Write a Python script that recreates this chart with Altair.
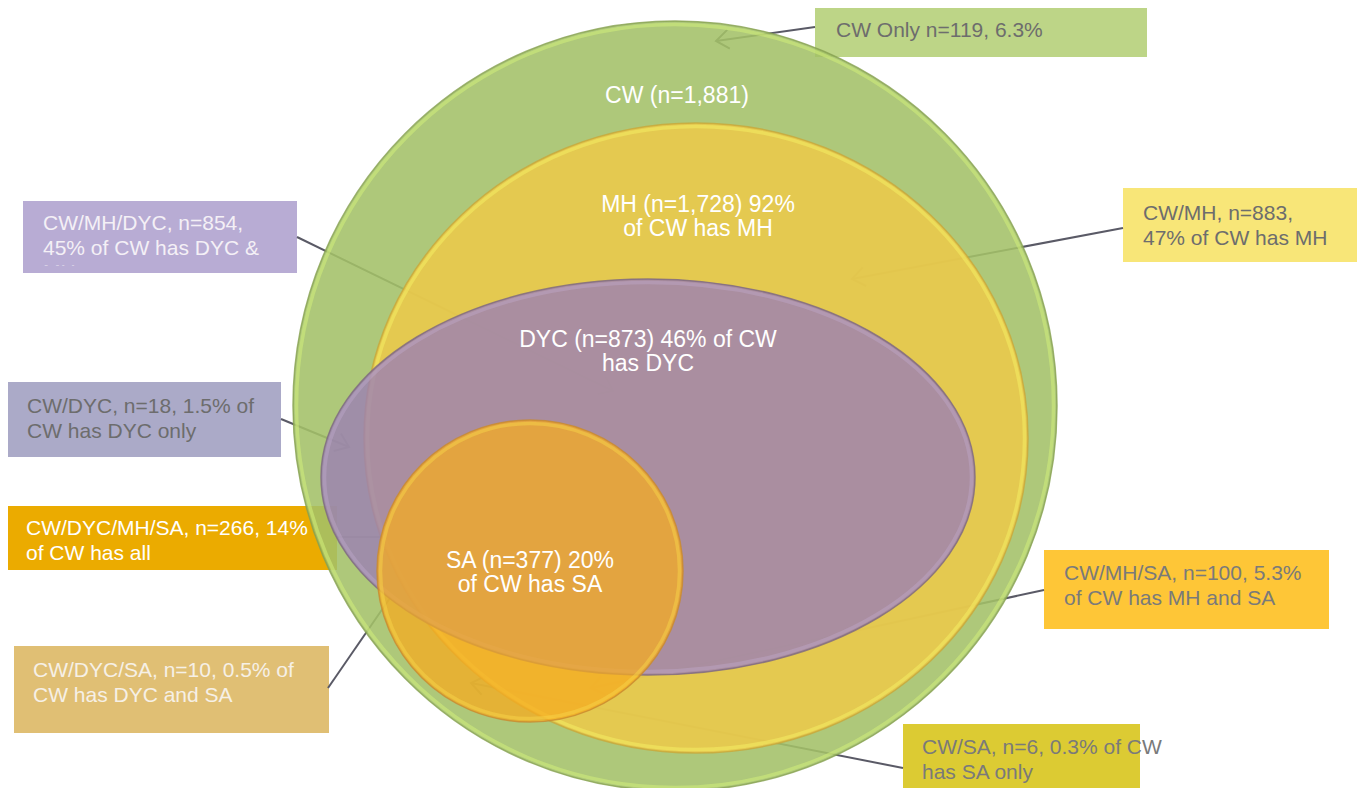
import math
import altair as alt
import pandas as pd

# ---------------- data (values / texts) ----------------
set_names = ["CW", "MH", "DYC", "SA"]
set_label_lines = [
    ["CW (n=1,881)"],
    ["MH (n=1,728) 92%", "of CW has MH"],
    ["DYC (n=873) 46% of CW", "has DYC"],
    ["SA (n=377) 20%", "of CW has SA"],
]

region_names = ["CW Only", "CW/MH", "CW/MH/DYC", "CW/DYC",
                "CW/DYC/MH/SA", "CW/MH/SA", "CW/DYC/SA", "CW/SA"]
region_lines = [
    ["CW Only n=119, 6.3%"],
    ["CW/MH, n=883,", "47% of CW has MH"],
    ["CW/MH/DYC, n=854,", "45% of CW has DYC &", "MH"],
    ["CW/DYC, n=18, 1.5% of", "CW has DYC only"],
    ["CW/DYC/MH/SA, n=266, 14%", "of CW has all"],
    ["CW/MH/SA, n=100, 5.3%", "of CW has MH and SA"],
    ["CW/DYC/SA, n=10, 0.5% of", "CW has DYC and SA"],
    ["CW/SA, n=6, 0.3% of CW", "has SA only"],
]

# ---------------- layout (page pixel coordinates) ----------------
shape_cx = [675, 696, 648, 530]
shape_cy = [406, 438, 477, 571]
shape_rx = [382, 332, 327, 153]
shape_ry = [385, 315, 198, 151]
shape_fill = ["#a3c068", "#ecc84a", "#9b80b4", "#f6ab20"]
shape_fill_op = [0.88, 0.88, 0.80, 0.75]
shape_edge = ["#86a050", "#c8a83a", "#7d6880", "#c88a30"]
shape_rim = ["#d2ee7a", "#f4ec62", "#c6b0d4", "#f8d448"]
shape_rim_op = [0.55, 0.55, 0.35, 0.5]
label_x = [677, 698, 648, 530]
label_y = [103, 212, 347, 568]

box_x1 = [815, 1123, 23, 7, 6, 1044, 14, 903]
box_x2 = [1147, 1365, 297, 281, 337, 1329, 329, 1140]
box_y1 = [7, 188, 201, 382, 506, 550, 646, 724]
box_y2 = [57, 262, 273, 457, 570, 629, 733, 796]
box_fill = ["#bdd587", "#f8e678", "#b8acd4", "#abaac8",
            "#ebab00", "#fec637", "#e0bf74", "#dccb33"]
text_x = [836, 1143, 43, 27, 26, 1064, 33, 922]
text_y = [37, 220, 230, 413, 535, 580, 677, 754]
text_col = ["#6d6d6d", "#6d6d6d", "#f4f0f6", "#6d6d6d",
            "#ffffff", "#7a7a7a", "#f6f0e6", "#7a7a7a"]

line_x1 = [815, 1123, 297, 281, 337, 1044, 328, 903]
line_y1 = [27, 228, 237, 419, 537, 590, 688, 768]
line_x2 = [716, 852, 613, 349, 383, 591, 390, 471]
line_y2 = [41, 279, 391, 447, 537, 688, 598, 683]
line_head = [True, True, True, True, False, True, False, True]
LINE_COL = "#5a5a66"

W, H = 1349, 780
xs = alt.Scale(domain=[8, 8 + W], nice=False, zero=False)
ys = alt.Scale(domain=[8, 8 + H], nice=False, zero=False, reverse=True)


def X(f):
    return alt.X(f"{f}:Q", scale=xs, axis=None)


def Y(f):
    return alt.Y(f"{f}:Q", scale=ys, axis=None)


def ellipse_path(q):
    k = 0.5523
    a, b = k * q, q
    return (f"M 1 0 C 1 {a:.4f} {k:.4f} {b:.4f} 0 {b:.4f} "
            f"C {-k:.4f} {b:.4f} -1 {a:.4f} -1 0 "
            f"C -1 {-a:.4f} {-k:.4f} {-b:.4f} 0 {-b:.4f} "
            f"C {k:.4f} {-b:.4f} 1 {-a:.4f} 1 0 Z")


layers = []

# boxes
boxes = pd.DataFrame({"name": region_names, "x1": box_x1, "x2": box_x2,
                      "y1": box_y1, "y2": box_y2, "fill": box_fill})
layers.append(alt.Chart(boxes).mark_rect(opacity=1).encode(
    x=X("x1"), x2="x2", y=Y("y1"), y2="y2",
    color=alt.Color("fill:N", scale=None)))

# leader lines
lines = pd.DataFrame({"x1": line_x1, "y1": line_y1, "x2": line_x2, "y2": line_y2})
layers.append(alt.Chart(lines).mark_rule(color=LINE_COL, strokeWidth=2).encode(
    x=X("x1"), y=Y("y1"), x2="x2", y2="y2"))

# arrow heads
hx, hy, ha = [], [], []
for i in range(len(line_x1)):
    if line_head[i]:
        ang = math.degrees(math.atan2(line_y2[i] - line_y1[i], line_x2[i] - line_x1[i])) % 360
        hx.append(line_x2[i]); hy.append(line_y2[i]); ha.append(ang)
heads = pd.DataFrame({"x": hx, "y": hy, "ang": ha})
layers.append(alt.Chart(heads).mark_point(
    shape="M -1 -0.75 L 0 0 L -1 0.75", filled=False, size=640,
    stroke=LINE_COL, strokeWidth=2, opacity=1).encode(
    x=X("x"), y=Y("y"), angle=alt.Angle("ang:Q", scale=None)))

# shapes
for i in range(4):
    d = pd.DataFrame({"set": [set_names[i]], "cx": [shape_cx[i]], "cy": [shape_cy[i]]})
    rx, ry = shape_rx[i], shape_ry[i]
    layers.append(alt.Chart(d).mark_point(
        shape=ellipse_path(ry / rx), size=4 * rx * rx, filled=True,
        fill=shape_fill[i], fillOpacity=shape_fill_op[i],
        stroke=shape_edge[i], strokeWidth=1.5, strokeOpacity=0.8, opacity=1
    ).encode(x=X("cx"), y=Y("cy")))
    rx2, ry2 = rx - 3.5, ry - 3.5
    layers.append(alt.Chart(d).mark_point(
        shape=ellipse_path(ry2 / rx2), size=4 * rx2 * rx2, filled=False,
        stroke=shape_rim[i], strokeWidth=3.5, strokeOpacity=shape_rim_op[i], opacity=1
    ).encode(x=X("cx"), y=Y("cy")))

# shape labels
slab = pd.DataFrame({"set": set_names, "x": label_x, "y": label_y,
                     "lines": set_label_lines})
layers.append(alt.Chart(slab).mark_text(
    align="center", baseline="alphabetic", font="Liberation Sans",
    fontSize=23, lineHeight=24, color="#ffffff").encode(
    x=X("x"), y=Y("y"), text=alt.Text("lines")))

# box texts
btxt = pd.DataFrame({"name": region_names, "x": text_x, "y": text_y,
                     "lines": region_lines, "col": text_col})
layers.append(alt.Chart(btxt).mark_text(
    align="left", baseline="alphabetic", font="Liberation Sans",
    fontSize=21, lineHeight=24.5).encode(
    x=X("x"), y=Y("y"), text=alt.Text("lines"),
    color=alt.Color("col:N", scale=None)))

# clipping of the overflowing third line in the CW/MH/DYC box
cover = pd.DataFrame({"x1": [box_x1[2], box_x1[2] - 3], "x2": [box_x2[2], box_x2[2] + 3],
                      "y1": [265.5, box_y2[2]], "y2": [box_y2[2], box_y2[2] + 25],
                      "fill": [box_fill[2], "#ffffff"]})
layers.append(alt.Chart(cover).mark_rect(opacity=1).encode(
    x=X("x1"), x2="x2", y=Y("y1"), y2="y2",
    color=alt.Color("fill:N", scale=None)))

chart = alt.layer(*layers).properties(
    width=W, height=H, padding=0, autosize=alt.AutoSizeParams(type="none"),
    background="#ffffff"
).configure_view(stroke=None)

chart.save("out.html", embed_options={"renderer": "svg", "actions": False})
